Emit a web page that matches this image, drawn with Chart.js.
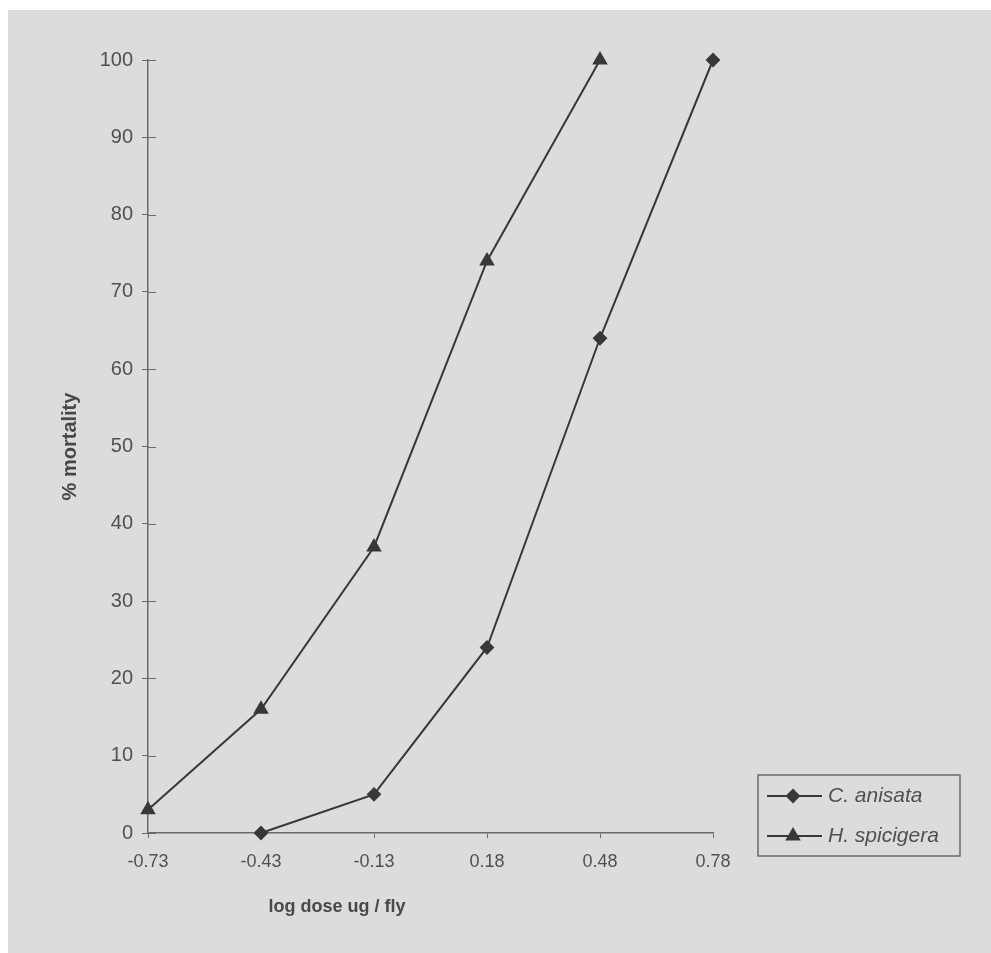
<!DOCTYPE html>
<html>
<head>
<meta charset="utf-8">
<title>% mortality vs log dose</title>
<script src="https://cdn.jsdelivr.net/npm/chart.js@4/dist/chart.umd.min.js"></script>
<style>
  html, body { margin: 0; padding: 0; background: #ffffff; }
  #wrap { position: absolute; left: 8px; top: 10px; width: 983px; height: 943px; background: #dcdcdc; }
</style>
</head>
<body>
<div id="wrap"><canvas id="chart"></canvas></div>
<script>
// data
const doseLabels = ["-0.73", "-0.43", "-0.13", "0.18", "0.48", "0.78"];
const anisataMortality = [null, 0, 5, 24, 64, 100];
const spicigeraMortality = [3, 16, 37, 74, 100, null];
const seriesNames = ["C. anisata", "H. spicigera"];

const lineColor = "#383838";
const axisColor = "#6a6a6a";
const textColor = "#505050";
const sans = "'Liberation Sans', Arial, sans-serif";

Chart.defaults.font.family = sans;

// small tick marks that reach into the plot, like the Excel original
const innerTicks = {
    id: "innerTicks",
    afterDraw(chart) {
        const ctx = chart.ctx;
        const area = chart.chartArea;
        const y = chart.scales.y;
        ctx.save();
        ctx.strokeStyle = axisColor;
        ctx.lineWidth = 1;
        y.ticks.forEach((t, i) => {
            const py = Math.round(y.getPixelForTick(i)) + 0.5;
            ctx.beginPath();
            ctx.moveTo(area.left, py);
            ctx.lineTo(area.left + 8, py);
            ctx.stroke();
        });
        ctx.restore();
    }
};

// x axis title sits left of centre in the original
const xTitle = {
    id: "xTitle",
    afterDraw(chart) {
        const ctx = chart.ctx;
        const area = chart.chartArea;
        ctx.save();
        ctx.fillStyle = "#484848";
        ctx.font = "bold 18px " + sans;
        ctx.textAlign = "center";
        ctx.textBaseline = "middle";
        ctx.fillText("log dose ug / fly", area.left + 189, area.bottom + 74);
        ctx.restore();
    }
};

// boxed legend with line + marker samples
const boxLegend = {
    id: "boxLegend",
    afterDraw(chart) {
        const ctx = chart.ctx;
        const area = chart.chartArea;
        const x0 = area.right + 45;
        const y0 = area.bottom - 58;
        ctx.save();
        ctx.strokeStyle = axisColor;
        ctx.lineWidth = 1.5;
        ctx.strokeRect(x0, y0, 202, 81);
        chart.data.datasets.forEach((ds, i) => {
            const cy = y0 + 21 + i * 40;
            ctx.strokeStyle = lineColor;
            ctx.fillStyle = lineColor;
            ctx.lineWidth = 2;
            ctx.beginPath();
            ctx.moveTo(x0 + 9, cy);
            ctx.lineTo(x0 + 64, cy);
            ctx.stroke();
            Chart.helpers.drawPoint(ctx, {
                pointStyle: ds.pointStyle,
                radius: ds.pointRadius,
                rotation: 0,
                borderWidth: 1
            }, x0 + 35, cy);
            ctx.fillStyle = textColor;
            ctx.font = "italic 21px " + sans;
            ctx.textAlign = "left";
            ctx.textBaseline = "middle";
            ctx.fillText(ds.label, x0 + 70, cy);
        });
        ctx.restore();
    }
};

new Chart(document.getElementById("chart"), {
    type: "line",
    data: {
        labels: doseLabels,
        datasets: [
            {
                label: seriesNames[0],
                data: anisataMortality,
                borderColor: lineColor,
                backgroundColor: lineColor,
                borderWidth: 2,
                pointStyle: "rectRot",
                pointRadius: 6,
                pointBackgroundColor: lineColor,
                pointBorderColor: lineColor,
                tension: 0,
                clip: false
            },
            {
                label: seriesNames[1],
                data: spicigeraMortality,
                borderColor: lineColor,
                backgroundColor: lineColor,
                borderWidth: 2,
                pointStyle: "triangle",
                pointRadius: 7,
                pointBackgroundColor: lineColor,
                pointBorderColor: lineColor,
                tension: 0,
                clip: false
            }
        ]
    },
    options: {
        responsive: true,
        maintainAspectRatio: false,
        animation: false,
        layout: {
            padding: { left: 40, top: 50, right: 278, bottom: 20 }
        },
        plugins: {
            legend: { display: false },
            tooltip: { enabled: false }
        },
        scales: {
            x: {
                type: "category",
                offset: false,
                border: { color: axisColor, width: 1.5 },
                grid: { drawOnChartArea: false, tickLength: 5, color: axisColor, tickColor: axisColor },
                ticks: {
                    color: textColor,
                    font: { size: 18 },
                    padding: 13,
                    maxRotation: 0,
                    autoSkip: false
                },
                afterFit(scale) { scale.height = 100; }
            },
            y: {
                min: 0,
                max: 100,
                border: { color: axisColor, width: 1.5 },
                grid: { drawOnChartArea: false, tickLength: 6, color: axisColor, tickColor: axisColor },
                ticks: {
                    stepSize: 10,
                    color: textColor,
                    font: { size: 20 },
                    padding: 9
                },
                title: {
                    display: true,
                    text: "% mortality",
                    color: "#484848",
                    font: { size: 20, weight: "bold" },
                    padding: { top: 10, bottom: 0 }
                },
                afterFit(scale) { scale.width = 100; }
            }
        }
    },
    plugins: [innerTicks, xTitle, boxLegend]
});
</script>
</body>
</html>
